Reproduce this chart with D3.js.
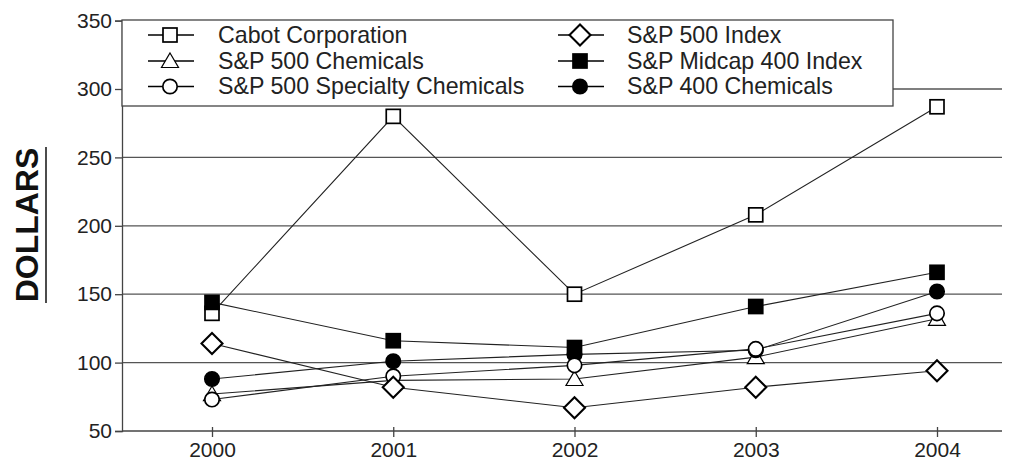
<!DOCTYPE html>
<html><head><meta charset="utf-8">
<script src="https://cdn.jsdelivr.net/npm/d3@7"></script>
<style>html,body{margin:0;padding:0;background:#fff;}svg{display:block;font-family:"Liberation Sans",Arial,sans-serif;}</style>
</head><body><svg id="c" width="1013" height="461"></svg>
<script>
const years = [2000, 2001, 2002, 2003, 2004];
const yTicks = [50, 100, 150, 200, 250, 300, 350];
const seriesNames = ["Cabot Corporation", "S&P 500 Chemicals", "S&P 500 Specialty Chemicals", "S&P 500 Index", "S&P Midcap 400 Index", "S&P 400 Chemicals"];
const seriesMarkers = ["openSquare", "openTriangle", "openCircle", "openDiamond", "filledSquare", "filledCircle"];
const cabot = [136, 280, 150, 208, 287];
const sp500Chem = [77, 87, 88, 104, 132];
const sp500Spec = [73, 90, 98, 110, 136];
const sp500Index = [114, 82, 67, 82, 94];
const midcap400 = [144, 116, 111, 141, 166];
const sp400Chem = [88, 101, 106, 109, 152];
const seriesValues = [cabot, sp500Chem, sp500Spec, sp500Index, midcap400, sp400Chem];
const drawOrder = [0, 1, 5, 2, 3, 4];

(function () {
const svg = d3.select("#c");
const pLeft = 122, pRight = 1002, pTop = 20.6, pBottom = 431;
const x = d3.scaleLinear().domain([2000, 2004]).range([212, 937]);
const y = d3.scaleLinear().domain([50, 350]).range([pBottom, pTop]);

svg.append("g").selectAll("line").data(yTicks.filter(t => t > 50 && t < 350)).join("line")
  .attr("x1", pLeft).attr("x2", pRight).attr("y1", d => y(d)).attr("y2", d => y(d))
  .attr("stroke", "#555").attr("stroke-width", 1.3);

const ya = svg.append("g").attr("transform", `translate(${pLeft},0)`)
  .call(d3.axisLeft(y).tickValues(yTicks).tickSize(7).tickPadding(3));
ya.select(".domain").attr("stroke", "#444").attr("stroke-width", 1.3);
ya.selectAll(".tick line").attr("stroke", "#444").attr("stroke-width", 1.3);
ya.selectAll("text").attr("font-size", 21).attr("fill", "#222").attr("font-family", "Liberation Sans, Arial, sans-serif");

const xa = svg.append("g").attr("transform", `translate(0,${pBottom})`)
  .call(d3.axisBottom(x).tickValues(years).tickFormat(d3.format("d")).tickSize(6).tickSizeOuter(0).tickPadding(5));
xa.select(".domain").attr("d", `M${pLeft},0H${pRight}`).attr("stroke", "#444").attr("stroke-width", 1.3);
xa.selectAll(".tick line").attr("y1", -4).attr("stroke", "#444").attr("stroke-width", 1.3);
xa.selectAll("text").attr("font-size", 21).attr("fill", "#222").attr("font-family", "Liberation Sans, Arial, sans-serif");

svg.append("text").attr("transform", "translate(38,225) rotate(-90)").attr("text-anchor", "middle")
  .attr("font-size", 32).attr("font-weight", "bold").attr("fill", "#111").text("DOLLARS");
svg.append("line").attr("x1", 46).attr("x2", 46).attr("y1", 147).attr("y2", 303).attr("stroke", "#111").attr("stroke-width", 1.5);

function marker(g, type, cx, cy) {
  const sw = 1.7;
  if (type === "openSquare" || type === "filledSquare") {
    g.append("rect").attr("x", cx - 7).attr("y", cy - 7).attr("width", 14).attr("height", 14)
      .attr("fill", type === "filledSquare" ? "#000" : "#fff").attr("stroke", "#000").attr("stroke-width", sw);
  } else if (type === "openCircle" || type === "filledCircle") {
    g.append("circle").attr("cx", cx).attr("cy", cy).attr("r", 7.2)
      .attr("fill", type === "filledCircle" ? "#000" : "#fff").attr("stroke", "#000").attr("stroke-width", sw);
  } else if (type === "openDiamond") {
    g.append("path").attr("d", `M${cx},${cy - 10.5}L${cx + 10.5},${cy}L${cx},${cy + 10.5}L${cx - 10.5},${cy}Z`)
      .attr("fill", "#fff").attr("stroke", "#000").attr("stroke-width", sw + 0.4);
  } else if (type === "openTriangle") {
    g.append("path").attr("d", `M${cx},${cy - 8}L${cx + 8.5},${cy + 6.5}L${cx - 8.5},${cy + 6.5}Z`)
      .attr("fill", "#fff").attr("stroke", "#000").attr("stroke-width", 1.2);
  }
}

const line = d3.line().x((d, i) => x(years[i])).y(d => y(d));
const linesG = svg.append("g");
drawOrder.forEach(si => {
  linesG.append("path").datum(seriesValues[si]).attr("d", line)
    .attr("fill", "none").attr("stroke", "#222").attr("stroke-width", 1.1);
});
const markG = svg.append("g");
drawOrder.forEach(si => {
  seriesValues[si].forEach((v, i) => marker(markG, seriesMarkers[si], x(years[i]), y(v)));
});

const lg = svg.append("g");
lg.append("rect").attr("x", pLeft).attr("y", 20).attr("width", 893 - pLeft).attr("height", 86)
  .attr("fill", "#fff").attr("stroke", "#444").attr("stroke-width", 1.3);
const rowY = [35, 61, 86.5];
const colMX = [170, 580];
const colTX = [218, 627];
seriesNames.forEach((name, i) => {
  const col = Math.floor(i / 3), row = i % 3;
  const cy = rowY[row], cx = colMX[col];
  lg.append("line").attr("x1", cx - 22).attr("x2", cx + 24).attr("y1", cy).attr("y2", cy)
    .attr("stroke", "#000").attr("stroke-width", 1.6);
  marker(lg, seriesMarkers[i], cx, cy);
  lg.append("text").attr("x", colTX[col]).attr("y", cy + 7.5).attr("font-size", 23.2).attr("fill", "#222").text(name);
});
})();
</script></body></html>
